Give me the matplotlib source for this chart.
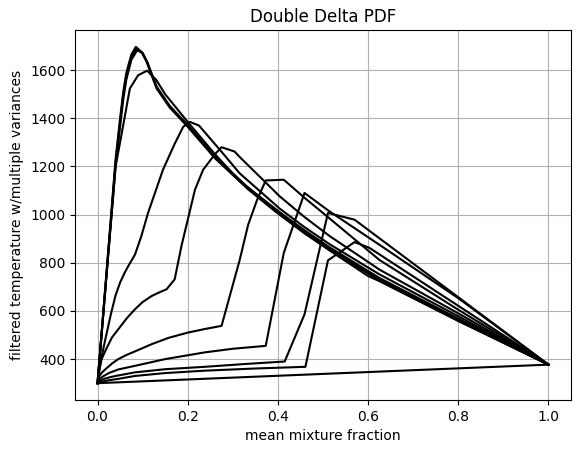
import matplotlib
matplotlib.use("Agg")
import matplotlib.pyplot as plt

# Mean mixture fraction / filtered temperature for each variance level
z_a = [0.0, 0.04, 0.05, 0.057, 0.064, 0.075, 0.085, 0.0976, 0.109, 0.131, 0.16, 0.201, 0.26, 0.334, 0.393, 0.459, 0.514, 0.6, 0.625, 0.8, 1.0]
t_a = [300, 1230, 1400, 1510, 1590, 1665, 1697, 1675, 1634, 1524, 1445, 1363, 1235, 1105, 1015, 922, 852, 745, 724, 558, 377]

z_b = [0.0, 0.04, 0.05, 0.057, 0.064, 0.075, 0.087, 0.1, 0.11, 0.131, 0.16, 0.201, 0.26, 0.334, 0.393, 0.459, 0.514, 0.625, 0.8, 1.0]
t_b = [300, 1215, 1385, 1495, 1578, 1655, 1690, 1672, 1632, 1528, 1448, 1366, 1238, 1108, 1018, 925, 855, 727, 560, 377]

z_c = [0.0, 0.04, 0.05, 0.057, 0.064, 0.075, 0.088, 0.1, 0.11, 0.131, 0.16, 0.201, 0.26, 0.334, 0.393, 0.459, 0.514, 0.625, 0.8, 1.0]
t_c = [300, 1200, 1365, 1478, 1562, 1643, 1683, 1670, 1635, 1532, 1452, 1370, 1242, 1112, 1022, 929, 859, 730, 563, 377]

z_d = [0.0, 0.04, 0.053, 0.0717, 0.09, 0.11, 0.13, 0.15, 0.2, 0.26, 0.315, 0.404, 0.459, 0.514, 0.625, 0.8, 1.0]
t_d = [300, 1200, 1331, 1524, 1579, 1598, 1560, 1500, 1385, 1252, 1140, 1010, 935, 865, 737, 568, 377]

z_e = [0.0, 0.008, 0.0164, 0.03, 0.04, 0.05, 0.06, 0.068, 0.083, 0.097, 0.112, 0.145, 0.17, 0.19, 0.205, 0.225, 0.271, 0.315, 0.404, 0.459, 0.514, 0.625, 0.8, 1.0]
t_e = [300, 400, 475, 590, 665, 718, 758, 786, 834, 910, 1007, 1186, 1290, 1365, 1385, 1370, 1270, 1172, 1025, 948, 878, 752, 578, 377]

z_f = [0.0, 0.003, 0.009, 0.02, 0.032, 0.046, 0.065, 0.083, 0.1, 0.12, 0.138, 0.153, 0.171, 0.186, 0.216, 0.234, 0.26, 0.275, 0.304, 0.315, 0.404, 0.459, 0.514, 0.625, 0.8, 1.0]
t_f = [300, 350, 400, 445, 490, 524, 570, 607, 637, 662, 678, 690, 731, 869, 1103, 1186, 1250, 1280, 1262, 1240, 1076, 990, 912, 772, 590, 377]

z_g = [0.0, 0.004, 0.01, 0.02, 0.033, 0.046, 0.065, 0.083, 0.12, 0.157, 0.2, 0.238, 0.275, 0.315, 0.334, 0.354, 0.373, 0.413, 0.459, 0.514, 0.625, 0.8, 1.0]
t_g = [300, 330, 345, 362, 383, 400, 418, 432, 462, 488, 510, 525, 538, 810, 958, 1062, 1142, 1145, 1070, 985, 812, 605, 377]

z_h = [0.0, 0.005, 0.012, 0.025, 0.046, 0.083, 0.15, 0.238, 0.3, 0.373, 0.413, 0.459, 0.514, 0.625, 0.8, 1.0]
t_h = [300, 318, 328, 342, 357, 372, 400, 428, 443, 455, 841, 1090, 1014, 875, 653, 377]

z_i = [0.0, 0.005, 0.015, 0.03, 0.046, 0.083, 0.15, 0.238, 0.33, 0.415, 0.459, 0.511, 0.570, 1.0]
t_i = [300, 310, 318, 326, 332, 345, 358, 368, 380, 390, 586, 1007, 979, 377]

z_j = [0.0, 0.01, 0.025, 0.046, 0.083, 0.15, 0.238, 0.35, 0.461, 0.511, 0.570, 0.603, 1.0]
t_j = [300, 306, 312, 318, 330, 342, 352, 361, 368, 810, 886, 862, 377]

z_k = [0.0, 1.0]
t_k = [300, 377]

curves = [(z_a, t_a), (z_b, t_b), (z_c, t_c), (z_d, t_d), (z_e, t_e), (z_f, t_f),
          (z_g, t_g), (z_h, t_h), (z_i, t_i), (z_j, t_j), (z_k, t_k)]

fig = plt.figure(figsize=(5.8, 4.53), dpi=100)
ax = fig.add_axes([75 / 580, 1 - 400 / 453, 496 / 580, 370 / 453])
for z, t in curves:
    ax.plot(z, t, color="black", linewidth=1.5)
ax.grid(True)
ax.set_title("Double Delta PDF")
ax.set_xlabel("mean mixture fraction")
ax.set_ylabel("filtered temperature w/multiple variances")
fig.savefig("out.png", dpi=100)
